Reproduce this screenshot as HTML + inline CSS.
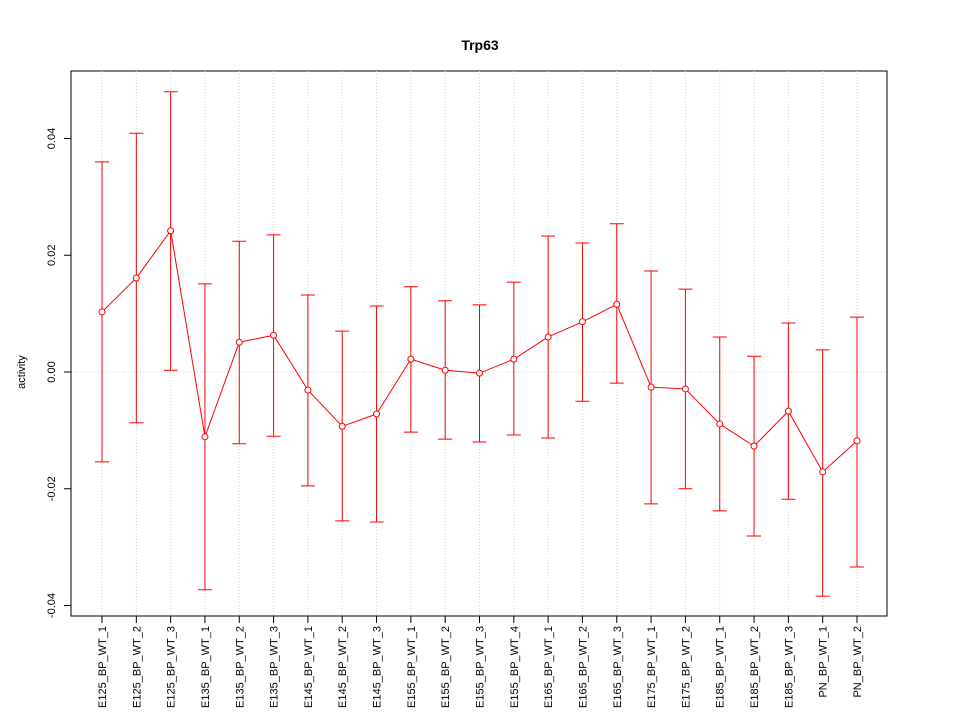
<!DOCTYPE html>
<html><head><meta charset="utf-8"><style>
body{margin:0;background:#fff;}
svg{display:block;font-family:"Liberation Sans",sans-serif;}
</style></head><body>
<svg id="chart" width="960" height="720">
<text x="480" y="50" text-anchor="middle" font-size="14" font-weight="bold">Trp63</text>
<rect x="71" y="71" width="816" height="545" fill="none" stroke="#000"/>
<text transform="translate(25,372) rotate(-90)" text-anchor="middle" font-size="11">activity</text>
<g id="grid"></g><g id="axes"></g><g id="series"></g>
</svg>
<script>
const categories=["E125_BP_WT_1","E125_BP_WT_2","E125_BP_WT_3","E135_BP_WT_1","E135_BP_WT_2","E135_BP_WT_3","E145_BP_WT_1","E145_BP_WT_2","E145_BP_WT_3","E155_BP_WT_1","E155_BP_WT_2","E155_BP_WT_3","E155_BP_WT_4","E165_BP_WT_1","E165_BP_WT_2","E165_BP_WT_3","E175_BP_WT_1","E175_BP_WT_2","E185_BP_WT_1","E185_BP_WT_2","E185_BP_WT_3","PN_BP_WT_1","PN_BP_WT_2"];
const values=[0.0103,0.0161,0.0242,-0.0111,0.0051,0.0063,-0.0031,-0.0093,-0.0072,0.0022,0.0003,-0.0002,0.0022,0.0060,0.0086,0.0116,-0.0026,-0.0029,-0.0089,-0.0127,-0.0067,-0.0171,-0.0118];
const upper=[0.0360,0.0409,0.0480,0.0151,0.0224,0.0235,0.0132,0.0070,0.0113,0.0146,0.0122,0.0115,0.0154,0.0233,0.0221,0.0254,0.0173,0.0142,0.0060,0.0027,0.0084,0.0038,0.0094];
const lower=[-0.0154,-0.0087,0.0003,-0.0373,-0.0123,-0.0110,-0.0195,-0.0255,-0.0257,-0.0103,-0.0115,-0.0120,-0.0108,-0.0113,-0.0050,-0.0019,-0.0226,-0.0200,-0.0238,-0.0281,-0.0218,-0.0384,-0.0334];
const yTicks=[-0.04,-0.02,0,0.02,0.04];
const yTickLabels=["-0.04","-0.02","0.00","0.02","0.04"];
const NS="http://www.w3.org/2000/svg";
const x=i=>102+i*(857-102)/(categories.length-1);
const y=v=>372-v*5837.5;
function mk(tag,attrs,parent){const e=document.createElementNS(NS,tag);for(const k in attrs)e.setAttribute(k,attrs[k]);parent.appendChild(e);return e;}
const grid=document.getElementById('grid'),axes=document.getElementById('axes'),ser=document.getElementById('series');
categories.forEach((c,i)=>{
 const g=mk('line',{x1:x(i),x2:x(i),y1:71,y2:616,stroke:'#d3d3d3','stroke-dasharray':'1,2'},grid);
 
 
 const t=mk('line',{x1:x(i),x2:x(i),y1:616,y2:623,stroke:'#000'},axes);
 
 
 const l=mk('text',{transform:`translate(${x(i)+4},626) rotate(-90)`,'text-anchor':'end','font-size':'11'},axes);
 l.textContent=c;
 
 
});
const z=mk('line',{x1:71,x2:887,y1:y(0),y2:y(0),stroke:'#d3d3d3','stroke-dasharray':'1,2'},grid);


mk('line',{x1:71,x2:71,y1:y(yTicks[0]),y2:y(yTicks[yTicks.length-1]),stroke:'#000'},axes);
yTicks.forEach((v,i)=>{
 const t=mk('line',{x1:64,x2:71,y1:y(v),y2:y(v),stroke:'#000'},axes);
 
 
 const l=mk('text',{transform:`translate(55,${y(v)}) rotate(-90)`,'text-anchor':'middle','font-size':'11'},axes);
 l.textContent=yTickLabels[i];
 
 
});
categories.forEach((c,i)=>{
 const e=mk('path',{d:`M${x(i)},${y(lower[i])}V${y(upper[i])}M${x(i)-7},${y(upper[i])}H${x(i)+7}M${x(i)-7},${y(lower[i])}H${x(i)+7}`,stroke:'#ff0000',fill:'none'},ser);
 
 
});
const pl=mk('polyline',{points:values.map((v,i)=>x(i)+','+y(v)).join(' '),stroke:'#ff0000',fill:'none'},ser);


values.forEach((v,i)=>{
 const p=mk('circle',{cx:x(i),cy:y(v),r:3,stroke:'#ff0000',fill:'#fff'},ser);
 
 
});
</script>
</body></html>
